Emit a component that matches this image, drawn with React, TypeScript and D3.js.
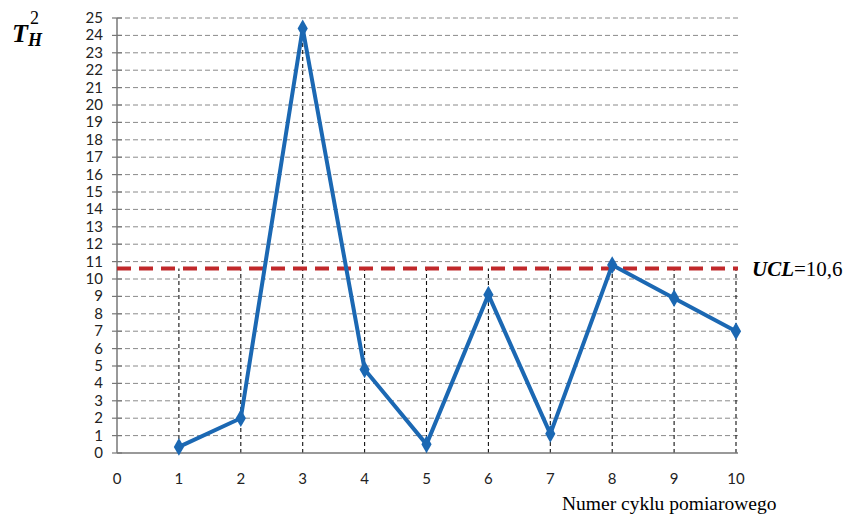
import React from "react";
import * as d3 from "d3";

const cycles = [1, 2, 3, 4, 5, 6, 7, 8, 9, 10];
const t2Values = [0.35, 2.0, 24.4, 4.8, 0.5, 9.1, 1.1, 10.8, 8.9, 7.0];
const ucl = 10.6;
const xTicks = [0, 1, 2, 3, 4, 5, 6, 7, 8, 9, 10];
const yTicks = d3.range(0, 26);

const App = () => {
  const svgRef = React.useRef(null);
  const width = 847;
  const height = 517;
  const margin = { top: 18, right: 110, bottom: 64, left: 117 };

  React.useEffect(() => {
    const svg = d3.select(svgRef.current);
    svg.selectAll("*").remove();

    const x = d3.scaleLinear().domain([0, 10]).range([margin.left, 736]);
    const y = d3.scaleLinear().domain([0, 25]).range([height - margin.bottom, margin.top]);

    // horizontal grid
    svg
      .append("g")
      .selectAll("line")
      .data(yTicks.slice(1))
      .join("line")
      .attr("x1", x(0))
      .attr("x2", x(10) + 2)
      .attr("y1", (d) => y(d))
      .attr("y2", (d) => y(d))
      .attr("stroke", "#8a8a8a")
      .attr("stroke-width", 1)
      .attr("stroke-dasharray", "5,3");

    // drop lines
    svg
      .append("g")
      .selectAll("line")
      .data(cycles)
      .join("line")
      .attr("x1", (d) => x(d))
      .attr("x2", (d) => x(d))
      .attr("y1", y(0))
      .attr("y2", (d, i) => y(Math.max(t2Values[i], ucl)))
      .attr("stroke", "#111")
      .attr("stroke-width", 1.1)
      .attr("stroke-dasharray", "4,3");

    // y axis
    const yAxis = svg.append("g").attr("transform", `translate(${x(0)},0)`);
    yAxis
      .append("line")
      .attr("y1", y(0))
      .attr("y2", y(25))
      .attr("stroke", "#777")
      .attr("stroke-width", 1.5);
    yAxis
      .selectAll("line.tick")
      .data(yTicks)
      .join("line")
      .attr("class", "tick")
      .attr("x1", -5)
      .attr("x2", 5)
      .attr("y1", (d) => y(d))
      .attr("y2", (d) => y(d))
      .attr("stroke", "#777")
      .attr("stroke-width", 1.2);
    yAxis
      .selectAll("text")
      .data(yTicks)
      .join("text")
      .attr("x", -14)
      .attr("y", (d) => y(d) + 5)
      .attr("text-anchor", "end")
      .attr("font-family", "Lato, 'Open Sans', sans-serif")
      .attr("font-size", 15)
      .attr("fill", "#222")
      .text((d) => d);

    // x axis
    svg
      .append("line")
      .attr("x1", x(0))
      .attr("x2", x(10) + 2)
      .attr("y1", y(0))
      .attr("y2", y(0))
      .attr("stroke", "#777")
      .attr("stroke-width", 1.5);
    svg
      .append("g")
      .selectAll("text")
      .data(xTicks)
      .join("text")
      .attr("x", (d) => x(d))
      .attr("y", 484)
      .attr("text-anchor", "middle")
      .attr("font-family", "Lato, 'Open Sans', sans-serif")
      .attr("font-size", 15)
      .attr("fill", "#222")
      .text((d) => d);

    // UCL line
    svg
      .append("line")
      .attr("x1", x(0))
      .attr("x2", x(10) + 2)
      .attr("y1", y(ucl))
      .attr("y2", y(ucl))
      .attr("stroke", "#c0282a")
      .attr("stroke-width", 4)
      .attr("stroke-dasharray", "14,8");

    // data line
    const line = d3
      .line()
      .x((d, i) => x(cycles[i]))
      .y((d) => y(d));
    svg
      .append("path")
      .datum(t2Values)
      .attr("d", line)
      .attr("fill", "none")
      .attr("stroke", "#1b68b3")
      .attr("stroke-width", 4)
      .attr("stroke-linejoin", "miter");

    svg
      .append("g")
      .selectAll("path")
      .data(t2Values)
      .join("path")
      .attr("transform", (d, i) => `translate(${x(cycles[i])},${y(d)})`)
      .attr("d", d3.symbol().type(d3.symbolDiamond).size(90))
      .attr("fill", "#1b68b3");

    // UCL label
    const ul = svg
      .append("text")
      .attr("x", 752)
      .attr("y", 276)
      .attr("font-family", "'Liberation Serif', 'Times New Roman', serif")
      .attr("font-size", 21);
    ul.append("tspan").attr("font-weight", "bold").attr("font-style", "italic").text("UCL");
    ul.append("tspan").text("=10,6");

    // y title
    const yt = svg
      .append("text")
      .attr("x", 12)
      .attr("y", 42)
      .attr("font-family", "'Liberation Serif', 'Times New Roman', serif")
      .attr("font-weight", "bold")
      .attr("font-style", "italic")
      .attr("font-size", 26);
    yt.append("tspan").text("T");
    yt.append("tspan").attr("font-size", 18).attr("dy", 4).text("H");
    svg
      .append("text")
      .attr("x", 30)
      .attr("y", 24)
      .attr("font-family", "'Liberation Serif', 'Times New Roman', serif")
      .attr("font-size", 18)
      .text("2");

    // x title
    svg
      .append("text")
      .attr("x", 562)
      .attr("y", 510)
      .attr("font-family", "'Liberation Serif', 'Times New Roman', serif")
      .attr("font-size", 19.5)
      .text("Numer cyklu pomiarowego");
  }, []);

  return (
    <svg
      ref={svgRef}
      width={width}
      height={height}
      style={{ position: "absolute", left: 0, top: 0, background: "#fff" }}
    />
  );
};

export default App;
